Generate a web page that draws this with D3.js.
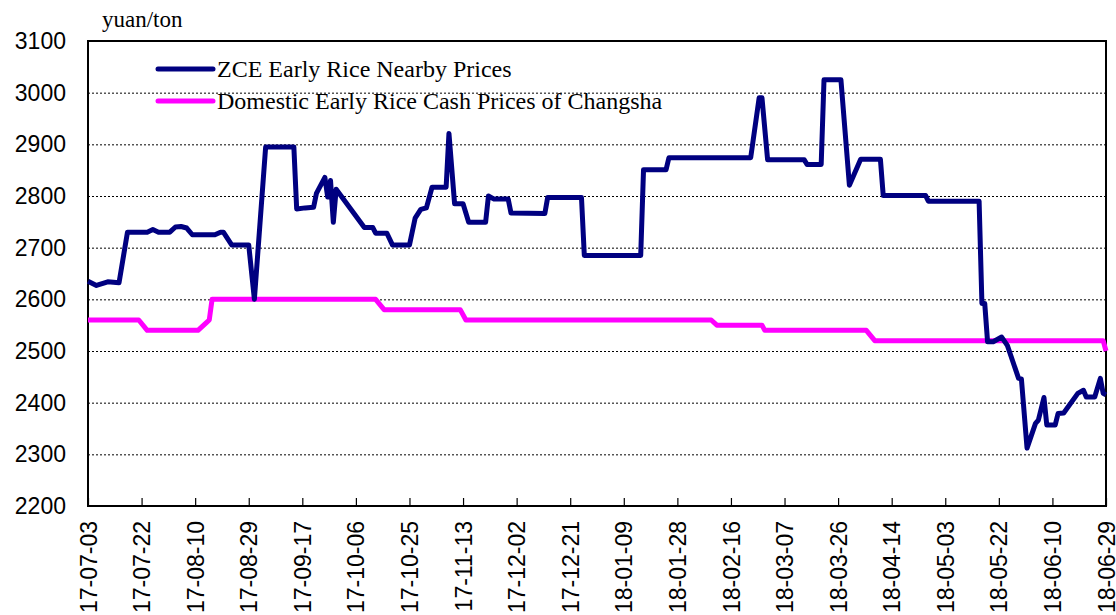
<!DOCTYPE html>
<html>
<head>
<meta charset="utf-8">
<script src="https://cdn.jsdelivr.net/npm/d3@7"></script>
<style>
  body { margin: 0; background: #fff; }
  svg { display: block; }
  .tick-y { font-family: "Liberation Sans", Arial, sans-serif; font-size: 23px; }
  .tick-x { font-family: "Liberation Sans", Arial, sans-serif; font-size: 23px; }
  .serif { font-family: "Liberation Serif", "Times New Roman", serif; }
</style>
</head>
<body>
<script>
// tick labels on the date axis (every 19 days)
var xTickLabels = ["17-07-03","17-07-22","17-08-10","17-08-29","17-09-17","17-10-06","17-10-25",
  "17-11-13","17-12-02","17-12-21","18-01-09","18-01-28","18-02-16","18-03-07","18-03-26",
  "18-04-14","18-05-03","18-05-22","18-06-10","18-06-29"];
var yTicks = [2200,2300,2400,2500,2600,2700,2800,2900,3000,3100];

// ZCE Early Rice Nearby Prices
var zceDates = ["2017-07-03","2017-07-06","2017-07-10","2017-07-14","2017-07-17","2017-07-24","2017-07-26",
  "2017-07-28","2017-08-01","2017-08-03","2017-08-05","2017-08-07","2017-08-09","2017-08-17","2017-08-19",
  "2017-08-20","2017-08-23","2017-08-29","2017-08-31","2017-09-04","2017-09-14","2017-09-15","2017-09-18",
  "2017-09-21","2017-09-22","2017-09-25","2017-09-26","2017-09-27","2017-09-28","2017-09-29","2017-10-09",
  "2017-10-12","2017-10-13","2017-10-17","2017-10-19","2017-10-25","2017-10-27","2017-10-29","2017-10-31",
  "2017-11-02","2017-11-07","2017-11-08","2017-11-10","2017-11-13","2017-11-15","2017-11-21","2017-11-22",
  "2017-11-24","2017-11-29","2017-11-30","2017-12-12","2017-12-13","2017-12-25","2017-12-26","2018-01-15",
  "2018-01-16","2018-01-24","2018-01-25","2018-02-23","2018-02-26","2018-02-27","2018-03-01","2018-03-14",
  "2018-03-15","2018-03-20","2018-03-21","2018-03-27","2018-03-30","2018-04-03","2018-04-10","2018-04-11",
  "2018-04-26","2018-04-27","2018-05-15","2018-05-16","2018-05-17","2018-05-18","2018-05-20","2018-05-23",
  "2018-05-25","2018-05-29","2018-05-30","2018-06-01","2018-06-04","2018-06-05","2018-06-07","2018-06-08",
  "2018-06-11","2018-06-12","2018-06-14","2018-06-19","2018-06-21","2018-06-22","2018-06-25","2018-06-27",
  "2018-06-28","2018-06-29"];
var zceValues = [2635,2627,2634,2632,2730,2730,2735,
  2730,2730,2740,2741,2738,2725,2725,2730,
  2730,2705,2705,2600,2895,2895,2775,2777,
  2778,2805,2836,2798,2830,2749,2813,2739,
  2739,2728,2728,2705,2705,2757,2774,2777,
  2817,2817,2921,2785,2785,2749,2749,2800,
  2794,2794,2767,2766,2797,2797,2685,2685,
  2851,2851,2874,2874,2990,2990,2870,2870,
  2861,2861,3025,3025,2821,2871,2871,2801,
  2801,2790,2790,2592,2592,2518,2518,2527,
  2511,2447,2446,2312,2360,2366,2410,2357,
  2357,2379,2380,2418,2424,2411,2411,2447,
  2418,2415];

// Domestic Early Rice Cash Prices of Changsha
var cashDates = ["2017-07-03","2017-07-21","2017-07-24","2017-08-11","2017-08-14","2017-08-15","2017-08-16",
  "2017-10-13","2017-10-16","2017-11-12","2017-11-14","2018-02-09","2018-02-11","2018-02-27","2018-02-28",
  "2018-04-05","2018-04-08","2018-06-28","2018-06-29"];
var cashValues = [2560,2560,2540,2540,2555,2560,2600,
  2600,2580,2580,2560,2560,2550,2550,2540,
  2540,2520,2520,2500];

var seriesNames = ["ZCE Early Rice Nearby Prices","Domestic Early Rice Cash Prices of Changsha"];
var seriesColors = ["#000080","#ff00ff"];

var width = 1116, height = 615;
var margin = {top: 41, right: 10, bottom: 109, left: 88};

var svg = d3.select("body").append("svg")
    .attr("width", width)
    .attr("height", height);

var parseDay = d3.utcParse("%Y-%m-%d");
var parseTick = d3.utcParse("%y-%m-%d");

var x = d3.scaleUtc()
    .domain([parseTick(xTickLabels[0]), parseTick(xTickLabels[xTickLabels.length - 1])])
    .range([margin.left, width - margin.right]);
var y = d3.scaleLinear()
    .domain([2200, 3100])
    .range([height - margin.bottom, margin.top]);

// dotted grid lines
svg.append("g")
  .selectAll("line")
  .data(yTicks.filter(function(v){ return v > 2200 && v < 3100; }))
  .enter().append("line")
  .attr("x1", x.range()[0]).attr("x2", x.range()[1])
  .attr("y1", function(d){ return y(d) + 0.5; })
  .attr("y2", function(d){ return y(d) + 0.5; })
  .attr("stroke", "#000")
  .attr("stroke-width", 1)
  .attr("stroke-dasharray", "2,2");

// y axis labels
var yAxis = d3.axisLeft(y).tickValues(yTicks).tickFormat(d3.format("d")).tickSize(0).tickPadding(22);
svg.append("g")
  .attr("transform", "translate(" + margin.left + ",0)")
  .call(yAxis)
  .call(function(g){ g.select(".domain").remove(); })
  .selectAll("text")
  .attr("class", "tick-y")
  .attr("fill", "#000")
  .attr("font-size", null)
  .attr("font-family", null);

// x axis, ticks pointing inward, labels rotated
var xAxis = d3.axisBottom(x)
    .tickValues(xTickLabels.map(parseTick))
    .tickFormat(d3.utcFormat("%y-%m-%d"))
    .tickSizeInner(-8).tickSizeOuter(0);
var gx = svg.append("g")
  .attr("transform", "translate(0," + (height - margin.bottom) + ")")
  .call(xAxis);
gx.select(".domain").remove();
gx.selectAll(".tick line").attr("stroke", "#000").attr("stroke-width", 1.2);
gx.selectAll("text")
  .attr("class", "tick-x")
  .attr("font-size", null)
  .attr("font-family", null)
  .attr("fill", "#000")
  .attr("text-anchor", "end")
  .attr("transform", "rotate(-90)")
  .attr("x", -15)
  .attr("y", 0)
  .attr("dy", "0.35em");

// frame
svg.append("rect")
  .attr("x", x.range()[0]).attr("y", y.range()[1])
  .attr("width", x.range()[1] - x.range()[0])
  .attr("height", y.range()[0] - y.range()[1])
  .attr("fill", "none")
  .attr("stroke", "#000")
  .attr("stroke-width", 2);

// series lines
var line = d3.line()
    .x(function(d){ return x(d.date); })
    .y(function(d){ return y(d.value); });

var series = [
  zceDates.map(function(d, i){ return {date: parseDay(d), value: zceValues[i]}; }),
  cashDates.map(function(d, i){ return {date: parseDay(d), value: cashValues[i]}; })
];

// cash line drawn first so the futures line sits on top
[1, 0].forEach(function(k){
  svg.append("path")
    .datum(series[k])
    .attr("d", line)
    .attr("fill", "none")
    .attr("stroke", seriesColors[k])
    .attr("stroke-width", 5)
    .attr("stroke-linejoin", "round")
    .attr("stroke-linecap", "butt");
});

// legend
var legend = svg.append("g").attr("transform", "translate(158,69)");
seriesNames.forEach(function(name, i){
  var g = legend.append("g").attr("transform", "translate(0," + (i * 32) + ")");
  g.append("line")
    .attr("x1", 0).attr("x2", 55)
    .attr("stroke", seriesColors[i])
    .attr("stroke-width", 5)
    .attr("stroke-linecap", "round");
  g.append("text")
    .attr("class", "serif")
    .attr("x", 59)
    .attr("y", 8)
    .attr("font-size", 24)
    .text(name);
});

// unit label
svg.append("text")
  .attr("class", "serif")
  .attr("x", 102)
  .attr("y", 27)
  .attr("font-size", 23)
  .text("yuan/ton");
</script>
</body>
</html>
